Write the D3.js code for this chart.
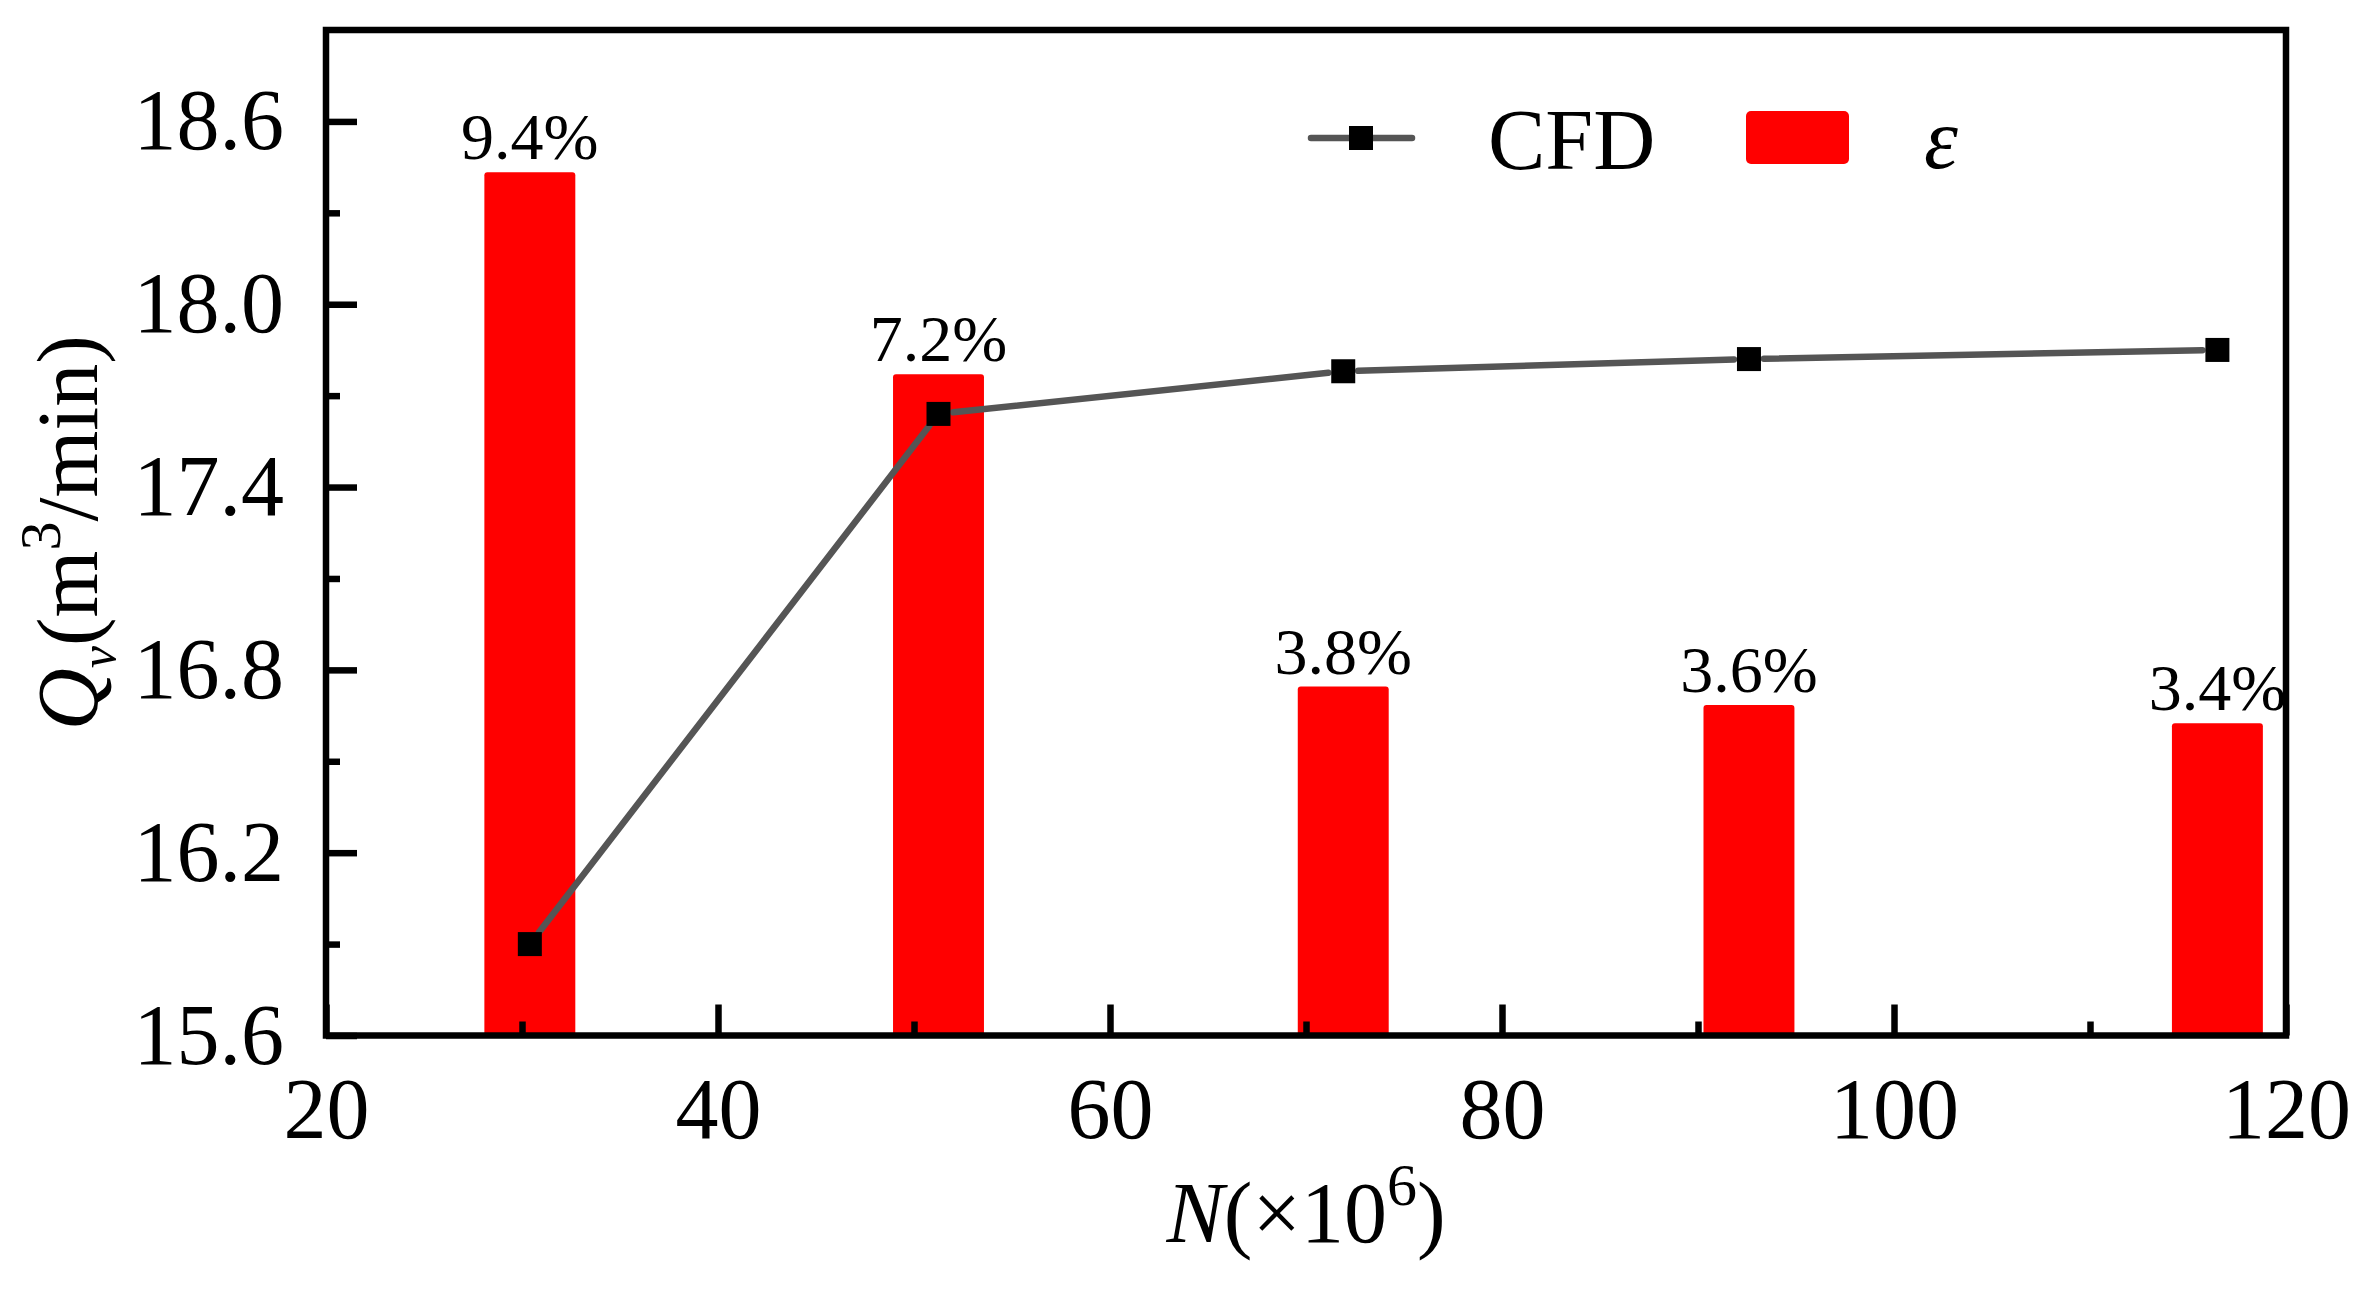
<!DOCTYPE html>
<html>
<head>
<meta charset="utf-8">
<script src="https://cdn.jsdelivr.net/npm/d3@7"></script>
<style>
    html, body { margin: 0; padding: 0; background: #fff; }
    svg { display: block; }
</style>
</head>
<body>
<div id="chart"></div>
<script>
// Grid size N (x10^6) for each case
const gridN = [30.4, 51.25, 71.9, 92.6, 116.5];
// CFD volume flow Qv (m3/min)
const cfdQv = [15.90, 17.64, 17.78, 17.82, 17.85];
// relative error epsilon (%)
const errPct = [9.4, 7.2, 3.8, 3.6, 3.4];

const xMajorTicks = [20, 40, 60, 80, 100, 120];
const xMinorTicks = [30, 50, 70, 90, 110];
const yMajorTicks = [15.6, 16.2, 16.8, 17.4, 18.0, 18.6];
const yMinorTicks = [15.9, 16.5, 17.1, 17.7, 18.3];

const width = 2377;
const height = 1292;
const plot = { left: 326, right: 2286, top: 30, bottom: 1035.5 };
const font = '"Liberation Serif", "Times New Roman", Times, serif';
const axisStroke = 6.5;

const svg = d3.select('#chart')
    .append('svg')
    .attr('width', width)
    .attr('height', height)
    .attr('viewBox', [0, 0, width, height])
    .style('font-family', font);

const x = d3.scaleLinear().domain([20, 120]).range([plot.left, plot.right]);
const y = d3.scaleLinear().domain([15.6, 18.9]).range([plot.bottom, plot.top]);
// hidden right axis for the error bars
const yErr = d3.scaleLinear().domain([0, 10.95]).range([plot.bottom, plot.top]);

const barWidth = 4.64; // in x units

// Bars (epsilon)
const bars = svg.append('g').attr('class', 'bars');
bars.selectAll('rect')
    .data(errPct)
    .join('rect')
    .attr('x', (d, i) => x(gridN[i] - barWidth / 2))
    .attr('width', x(gridN[0] + barWidth) - x(gridN[0]))
    .attr('y', d => yErr(d))
    .attr('height', d => plot.bottom - yErr(d))
    .attr('rx', 3)
    .attr('fill', '#ff0000');

bars.selectAll('text')
    .data(errPct)
    .join('text')
    .attr('x', (d, i) => x(gridN[i]))
    .attr('y', d => yErr(d) - 13)
    .attr('text-anchor', 'middle')
    .attr('font-size', 66)
    .attr('fill', '#000')
    .text(d => d.toFixed(1) + '%');

// CFD line, segments stop short of the markers
const pts = gridN.map((n, i) => [x(n), y(cfdQv[i])]);
const gap = 15;
const segs = d3.pairs(pts).map(([a, b]) => {
    const dx = b[0] - a[0], dy = b[1] - a[1];
    const len = Math.hypot(dx, dy);
    const ux = dx / len, uy = dy / len;
    return [a[0] + ux * gap, a[1] + uy * gap, b[0] - ux * gap, b[1] - uy * gap];
});

const lineG = svg.append('g').attr('class', 'cfd');
lineG.selectAll('line')
    .data(segs)
    .join('line')
    .attr('x1', d => d[0]).attr('y1', d => d[1])
    .attr('x2', d => d[2]).attr('y2', d => d[3])
    .attr('stroke', '#555555')
    .attr('stroke-width', 6.5)
    .attr('stroke-linecap', 'round');

const markerSize = 24;
lineG.selectAll('rect')
    .data(pts)
    .join('rect')
    .attr('x', d => d[0] - markerSize / 2)
    .attr('y', d => d[1] - markerSize / 2)
    .attr('width', markerSize)
    .attr('height', markerSize)
    .attr('fill', '#000');

// Axes (ticks point inward)
function styleAxis(g) {
    g.select('.domain').remove();
    g.selectAll('.tick line').attr('stroke', '#000').attr('stroke-width', axisStroke);
    g.selectAll('.tick text')
        .attr('fill', '#000')
        .attr('font-size', 86)
        .attr('font-family', font);
}

svg.append('g')
    .attr('transform', `translate(0,${plot.bottom})`)
    .call(d3.axisBottom(x).tickValues(xMajorTicks).tickSize(-31).tickSizeOuter(0).tickPadding(41).tickFormat(d3.format('d')))
    .call(styleAxis);

svg.append('g')
    .attr('transform', `translate(0,${plot.bottom})`)
    .call(d3.axisBottom(x).tickValues(xMinorTicks).tickSize(-14).tickSizeOuter(0).tickFormat(''))
    .call(styleAxis);

svg.append('g')
    .attr('transform', `translate(${plot.left},0)`)
    .call(d3.axisLeft(y).tickValues(yMajorTicks).tickSize(-31).tickSizeOuter(0).tickPadding(42).tickFormat(d3.format('.1f')))
    .call(styleAxis);

svg.append('g')
    .attr('transform', `translate(${plot.left},0)`)
    .call(d3.axisLeft(y).tickValues(yMinorTicks).tickSize(-14).tickSizeOuter(0).tickFormat(''))
    .call(styleAxis);

// Frame
svg.append('rect')
    .attr('x', plot.left)
    .attr('y', plot.top)
    .attr('width', plot.right - plot.left)
    .attr('height', plot.bottom - plot.top)
    .attr('fill', 'none')
    .attr('stroke', '#000')
    .attr('stroke-width', axisStroke);

// Axis titles
const xTitle = svg.append('text')
    .attr('x', (plot.left + plot.right) / 2)
    .attr('y', 1242)
    .attr('text-anchor', 'middle')
    .attr('font-size', 86)
    .attr('fill', '#000');
xTitle.append('tspan').attr('font-style', 'italic').text('N');
xTitle.append('tspan').text('(\u00d710');
xTitle.append('tspan').attr('font-size', 60).attr('dy', -37).text('6');
xTitle.append('tspan').attr('dy', 37).text(')');

const yTitle = svg.append('text')
    .attr('transform', `translate(97,${(plot.top + plot.bottom) / 2}) rotate(-90)`)
    .attr('text-anchor', 'middle')
    .attr('font-size', 86)
    .attr('fill', '#000');
yTitle.append('tspan').attr('font-style', 'italic').text('Q');
yTitle.append('tspan').attr('font-style', 'italic').attr('font-size', 50).attr('dy', 18).text('v');
yTitle.append('tspan').attr('dy', -18).text('(m');
yTitle.append('tspan').attr('font-size', 58).attr('dy', -37).text('3');
yTitle.append('tspan').attr('dy', 37).text('/min)');

// Legend
const legend = svg.append('g').attr('class', 'legend');
legend.append('line')
    .attr('x1', 1311).attr('x2', 1412)
    .attr('y1', 138).attr('y2', 138)
    .attr('stroke', '#555555')
    .attr('stroke-width', 6.5)
    .attr('stroke-linecap', 'round');
legend.append('rect')
    .attr('x', 1361 - markerSize / 2)
    .attr('y', 138 - markerSize / 2)
    .attr('width', markerSize)
    .attr('height', markerSize)
    .attr('fill', '#000');
legend.append('text')
    .attr('x', 1488).attr('y', 169)
    .attr('font-size', 86)
    .attr('fill', '#000')
    .text('CFD');
legend.append('rect')
    .attr('x', 1746).attr('y', 111)
    .attr('width', 103).attr('height', 53)
    .attr('rx', 5)
    .attr('fill', '#ff0000');
legend.append('text')
    .attr('x', 1924).attr('y', 168)
    .attr('font-size', 86)
    .attr('font-style', 'italic')
    .attr('fill', '#000')
    .text('\u03b5');
</script>
</body>
</html>
